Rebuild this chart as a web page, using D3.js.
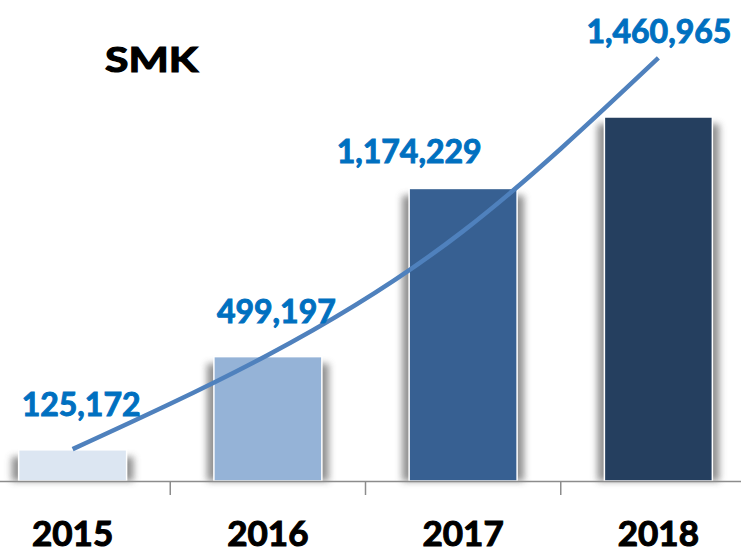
<!DOCTYPE html>
<html>
<head>
<meta charset="utf-8">
<script src="https://cdn.jsdelivr.net/npm/d3@7"></script>
<style>
  body { margin: 0; background: #fff; }
  svg { display: block; }
</style>
</head>
<body>
<div id="chart"></div>
<script>
// data
var years = ["2015", "2016", "2017", "2018"];
var values = [125172, 499197, 1174229, 1460965];
var trendValues = [128000, 506000, 1003000, 1698000]; // curve drawn over the bars
var barColors = ["#dce6f2", "#95b3d7", "#376092", "#253f5f"];
var title = "SMK";

// label placement (relative to the top of each bar)
var labelDx = [8.5, 8.5, -54, 0.5];
var labelDy = [-34, -34, -25, -74];

var width = 741, height = 553;
var baseY = 481;
var font = "Lato, 'Open Sans', sans-serif";

var svg = d3.select("#chart")
    .append("svg")
    .attr("width", width)
    .attr("height", height);

// soft shadow for the bars
var defs = svg.append("defs");
defs.append("filter")
    .attr("id", "barShadow")
    .attr("x", "-30%").attr("y", "-30%")
    .attr("width", "160%").attr("height", "160%")
    .append("feGaussianBlur")
    .attr("stdDeviation", 3.5);

// x scale -- plot area runs a bit past both edges of the picture
var x = d3.scaleBand()
    .domain(years)
    .range([-25, 756])
    .paddingInner(0.447)
    .paddingOuter(0.2235);

var y = d3.scaleLinear()
    .domain([0, 1800000])
    .range([baseY, baseY - 1800000 * 364 / 1460965]);

// shadows
svg.append("g")
    .selectAll("rect")
    .data(values)
    .enter().append("rect")
    .attr("x", function (d, i) { return x(years[i]) - 7; })
    .attr("y", function (d) { return y(d) + 7; })
    .attr("width", x.bandwidth() + 14)
    .attr("height", function (d) { return baseY - y(d) - 7; })
    .attr("fill", "#7f7f7f")
    .attr("opacity", 0.85)
    .attr("filter", "url(#barShadow)");

// bars
svg.append("g")
    .selectAll("rect")
    .data(values)
    .enter().append("rect")
    .attr("x", function (d, i) { return x(years[i]); })
    .attr("y", function (d) { return y(d); })
    .attr("width", x.bandwidth())
    .attr("height", function (d) { return baseY - y(d); })
    .attr("fill", function (d, i) { return barColors[i]; })
    .attr("stroke", "#ffffff")
    .attr("stroke-width", 1.5);

// axis line + ticks between categories
svg.append("line")
    .attr("x1", 0).attr("x2", width)
    .attr("y1", baseY + 0.5).attr("y2", baseY + 0.5)
    .attr("stroke", "#8c8c8c")
    .attr("stroke-width", 1.5);

var tickX = years.slice(1).map(function (d) { return x(d) - x.step() * x.paddingInner() / 2; });
svg.append("g")
    .selectAll("line")
    .data(tickX)
    .enter().append("line")
    .attr("x1", function (d) { return d; })
    .attr("x2", function (d) { return d; })
    .attr("y1", baseY)
    .attr("y2", baseY + 14)
    .attr("stroke", "#8c8c8c")
    .attr("stroke-width", 1.5);

// year labels (thin stroke to thicken the bold face)
svg.append("g")
    .selectAll("text")
    .data(years)
    .enter().append("text")
    .attr("x", function (d) { return x(d) + x.bandwidth() / 2; })
    .attr("y", 546)
    .attr("text-anchor", "middle")
    .attr("font-family", font)
    .attr("font-weight", "bold")
    .attr("font-size", "35px")
    .attr("fill", "#000")
    .attr("stroke", "#000")
    .attr("stroke-width", 1.1)
    .text(function (d) { return d; });

// trend curve
var line = d3.line()
    .x(function (d, i) { return x(years[i]) + x.bandwidth() / 2; })
    .y(function (d) { return y(d); })
    .curve(d3.curveNatural);

svg.append("path")
    .datum(trendValues)
    .attr("d", line)
    .attr("fill", "none")
    .attr("stroke", "#4f81bd")
    .attr("stroke-width", 4.5);

// value labels
var fmt = d3.format(",");
svg.append("g")
    .selectAll("text")
    .data(values)
    .enter().append("text")
    .attr("x", function (d, i) { return x(years[i]) + x.bandwidth() / 2 + labelDx[i]; })
    .attr("y", function (d, i) { return y(d) + labelDy[i]; })
    .attr("text-anchor", "middle")
    .attr("font-family", font)
    .attr("font-weight", "bold")
    .attr("font-size", "32px")
    .attr("fill", "#0070c0")
    .attr("stroke", "#0070c0")
    .attr("stroke-width", 1)
    .text(function (d) { return fmt(d); });

// title
svg.append("text")
    .attr("x", 105)
    .attr("y", 72)
    .attr("font-family", font)
    .attr("font-weight", "bold")
    .attr("font-size", "35px")
    .attr("textLength", 93)
    .attr("lengthAdjust", "spacingAndGlyphs")
    .attr("fill", "#000")
    .attr("stroke", "#000")
    .attr("stroke-width", 1.2)
    .text(title);
</script>
</body>
</html>
